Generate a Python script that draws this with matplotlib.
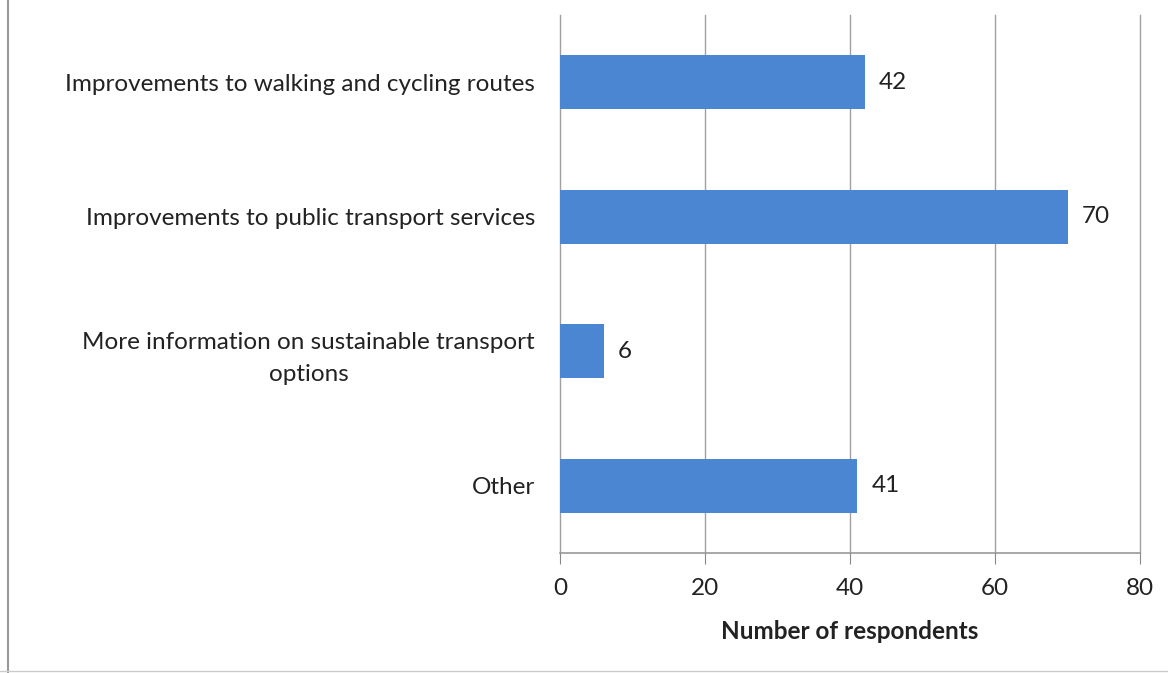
import matplotlib
matplotlib.use("Agg")
import matplotlib.pyplot as plt
from matplotlib.lines import Line2D

categories = [
    "Improvements to walking and cycling routes",
    "Improvements to public transport services",
    "More information on sustainable transport\noptions",
    "Other",
]
values = [42, 70, 6, 41]
xticks = [0, 20, 40, 60, 80]

plt.rcParams['font.family'] = ['Lato', 'DejaVu Sans']

fig = plt.figure(figsize=(11.68, 6.73), dpi=100)
ax = fig.add_axes([560/1168, 1 - 553/673, 580/1168, 538/673])

pos = list(range(len(categories)))[::-1]
bars = ax.barh(pos, values, height=0.4, color='#4A86D2', zorder=3)

for y, v in zip(pos, values):
    ax.text(v + 2, y, str(v), va='center', ha='left', fontsize=17.5, color='#222222')

ax.set_xlim(0, 80)
ax.set_ylim(-0.5, 3.5)
ax.set_xticks(xticks)
ax.set_xticklabels([str(t) for t in xticks], fontsize=17.5, color='#222222')
ax.set_yticks(pos)
ax.set_yticklabels(categories, fontsize=17.5, color='#222222', linespacing=1.65)
for lbl in ax.get_yticklabels():
    lbl.set_multialignment('center')
ax.tick_params(axis='y', length=0, pad=18)
ax.tick_params(axis='x', length=8, color='#888888', direction='out', pad=10)

ax.grid(axis='x', color='#a0a0a0', linewidth=1, zorder=0)
for gl in ax.get_xgridlines():
    gl.set_clip_on(False)
for s in ['top', 'right', 'left']:
    ax.spines[s].set_visible(False)
ax.spines['bottom'].set_color('#999999')
ax.spines['bottom'].set_linewidth(1.2)

ax.set_xlabel("Number of respondents", fontsize=17.5, fontweight='bold', color='#222222', labelpad=15)

# outer frame lines from the source page
fig.add_artist(Line2D([8/1168, 8/1168], [0, 1], transform=fig.transFigure, color='#999999', linewidth=1.5))
fig.add_artist(Line2D([0, 1], [2/673, 2/673], transform=fig.transFigure, color='#cccccc', linewidth=1))

fig.savefig("out.png", dpi=100, facecolor='white')
